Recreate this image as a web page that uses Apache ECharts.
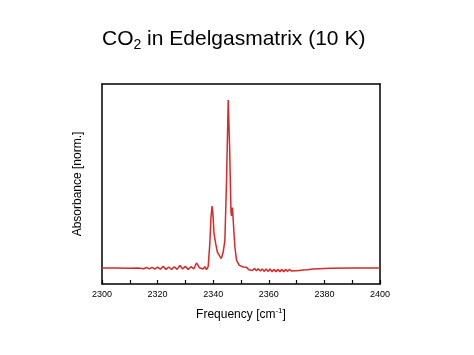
<!DOCTYPE html>
<html>
<head>
<meta charset="utf-8">
<script src="https://cdn.jsdelivr.net/npm/echarts@6/dist/echarts.min.js"></script>
<style>
  html, body { margin: 0; padding: 0; background: #fff; }
  #chart { width: 474px; height: 355px; }
</style>
</head>
<body>
<div id="chart"></div>
<script>
// spectrum (wavenumber, normalised absorbance)
const frequency = [
  2300, 2305, 2310, 2313, 2315, 2316, 2317, 2318, 2319, 2320,
  2321, 2322, 2323, 2324, 2325, 2326, 2327, 2328, 2329, 2330,
  2331, 2332, 2333, 2334, 2335, 2335.7, 2336.4, 2337, 2337.6, 2338.2,
  2338.8, 2339.2, 2339.6, 2339.9, 2340.3, 2340.9, 2341.5, 2342.2, 2342.9, 2343.6,
  2344.2, 2344.8, 2345.4, 2345.9, 2346.4, 2346.6, 2346.9, 2347.2, 2347.8, 2348.4,
  2349.4, 2350.8, 2351.5, 2352, 2352.8, 2353.4, 2354.2, 2354.8, 2355.6, 2356.2,
  2357, 2357.6, 2358.4, 2359, 2359.8, 2360.4, 2361.2, 2361.8, 2362.6, 2363.2,
  2364, 2364.6, 2365.4, 2366, 2366.8, 2367.4, 2368.2, 2368.8, 2369.6, 2370.2,
  2371, 2371.6, 2372.4, 2373, 2373.8, 2374.5, 2376, 2378, 2382, 2390,
  2400
];
const absorbance = [
  0.000, 0.000, -0.002, 0.000, -0.004, 0.003, -0.005, 0.004, -0.006, 0.005,
  -0.007, 0.010, -0.008, 0.006, -0.009, 0.008, -0.008, 0.015, -0.006, 0.010,
  -0.008, 0.008, -0.006, 0.030, 0.002, 0.012, -0.006, 0.008, -0.010, 0.010,
  0.150, 0.300, 0.368, 0.320, 0.205, 0.145, 0.095, 0.085, 0.056, 0.095,
  0.165, 0.520, 1.000, 0.720, 0.334, 0.310, 0.360, 0.284, 0.125, 0.046,
  0.016, 0.006, -0.004, 0.004, -0.010, 0.000, -0.014, -0.002, -0.016, -0.004,
  -0.018, -0.006, -0.020, -0.006, -0.020, -0.006, -0.022, -0.008, -0.022, -0.008,
  -0.022, -0.008, -0.022, -0.008, -0.020, -0.008, -0.018, -0.008, -0.016, -0.008,
  -0.014, -0.006, -0.012, -0.006, -0.010, -0.005, -0.006, -0.004, -0.002, 0.000,
  0.000
];
const xTicks = [2300, 2320, 2340, 2360, 2380, 2400];

// the box is drawn by four axis lines (grid border hides the inside ticks)
const frameLine = { show: true, onZero: false, lineStyle: { color: "#000", width: 1.5 } };

const chart = echarts.init(document.getElementById("chart"));
chart.setOption({
  animation: false,
  backgroundColor: "#fff",
  textStyle: { fontFamily: "Liberation Sans, Arial, sans-serif", color: "#000" },
  title: {
    text: "CO{sub|2} in Edelgasmatrix (10 K)",
    left: 97,
    top: 22,
    textStyle: {
      fontSize: 21,
      fontWeight: "normal",
      color: "#000",
      rich: { sub: { fontSize: 14, padding: [11, 0, 0, 0], color: "#000" } },
    },
  },
  grid: { left: 102, right: 94, top: 84, bottom: 71, show: false },
  xAxis: [
    {
      type: "value",
      position: "bottom",
      min: xTicks[0],
      max: xTicks[xTicks.length - 1],
      interval: 20,
      name: "Frequency [cm{sup|-1}]",
      nameLocation: "middle",
      nameGap: 23,
      nameTextStyle: {
        fontSize: 12, color: "#000",
        rich: { sup: { fontSize: 8, padding: [0, 0, 8, 0], color: "#000" } },
      },
      axisLine: frameLine,
      axisTick: { show: true, inside: true, length: 4, lineStyle: { color: "#000", width: 1.2 } },
      minorTick: { show: true, splitNumber: 2, length: 4, lineStyle: { color: "#000", width: 1.2 } },
      axisLabel: { fontSize: 9, color: "#000", margin: 6, formatter: (v) => String(v) },
      splitLine: { show: false },
    },
    {
      type: "value",
      position: "top",
      min: xTicks[0],
      max: xTicks[xTicks.length - 1],
      axisLine: frameLine,
      axisTick: { show: false },
      axisLabel: { show: false },
      splitLine: { show: false },
    },
  ],
  yAxis: [
    {
      type: "value",
      position: "left",
      min: -0.095,
      max: 1.095,
      name: "Absorbance [norm.]",
      nameLocation: "middle",
      nameGap: 18,
      nameTextStyle: { fontSize: 12, color: "#000" },
      axisLine: frameLine,
      axisTick: { show: false },
      axisLabel: { show: false },
      splitLine: { show: false },
    },
    {
      type: "value",
      position: "right",
      min: -0.095,
      max: 1.095,
      axisLine: frameLine,
      axisTick: { show: false },
      axisLabel: { show: false },
      splitLine: { show: false },
    },
  ],
  series: [
    {
      type: "line",
      showSymbol: false,
      lineStyle: { color: "#d42a2a", width: 1.5 },
      data: frequency.map((f, i) => [f, absorbance[i]]),
    },
  ],
});
</script>
</body>
</html>
